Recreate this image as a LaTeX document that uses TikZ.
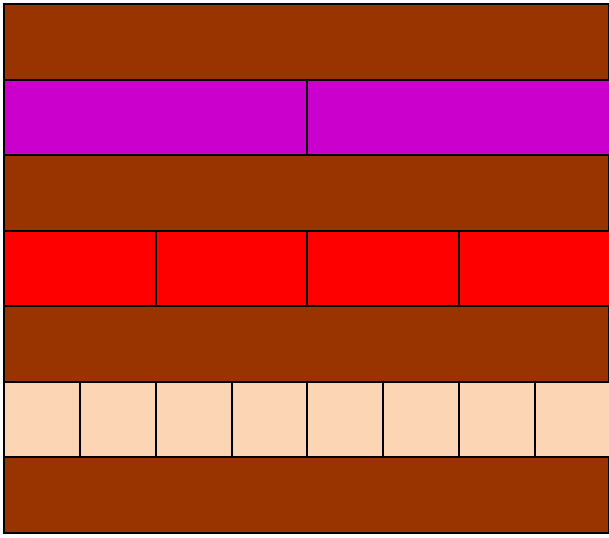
\documentclass[tikz,border=0pt]{standalone}
\usepackage{tikz}
\definecolor{brownbar}{HTML}{993300}
\definecolor{purplebar}{HTML}{CC00CC}
\definecolor{redbar}{HTML}{FF0000}
\definecolor{peachbar}{HTML}{FCD5B4}
\tikzset{cell/.style={draw=black,line width=2pt}}
\begin{document}
\begin{tikzpicture}[x=1pt,y=1pt]
\useasboundingbox (0,0) rectangle (609,537);
\clip (0,0) rectangle (609,537);
\def\L{4.4}
\def\R{609.3}
\def\T{533}
\def\H{75.57}
\def\U{75.75}
% row 1 brown
\filldraw[cell,fill=brownbar] (\L,\T) rectangle (\R,\T-\H);
% row 2 purple halves
\foreach \i in {0,1} {
  \filldraw[cell,fill=purplebar] ({\L+\i*4*\U},\T-\H) rectangle ({\L+(\i+1)*4*\U},\T-2*\H);
}
% row 3 brown
\filldraw[cell,fill=brownbar] (\L,\T-2*\H) rectangle (\R,\T-3*\H);
% row 4 red quarters
\foreach \i in {0,...,3} {
  \filldraw[cell,fill=redbar] ({\L+\i*2*\U},\T-3*\H) rectangle ({\L+(\i+1)*2*\U},\T-4*\H);
}
% row 5 brown
\filldraw[cell,fill=brownbar] (\L,\T-4*\H) rectangle (\R,\T-5*\H);
% row 6 peach eighths
\foreach \i in {0,...,7} {
  \filldraw[cell,fill=peachbar] ({\L+\i*\U},\T-5*\H) rectangle ({\L+(\i+1)*\U},\T-6*\H);
}
% row 7 brown
\filldraw[cell,fill=brownbar] (\L,\T-6*\H) rectangle (\R,\T-7*\H);
\end{tikzpicture}
\end{document}
